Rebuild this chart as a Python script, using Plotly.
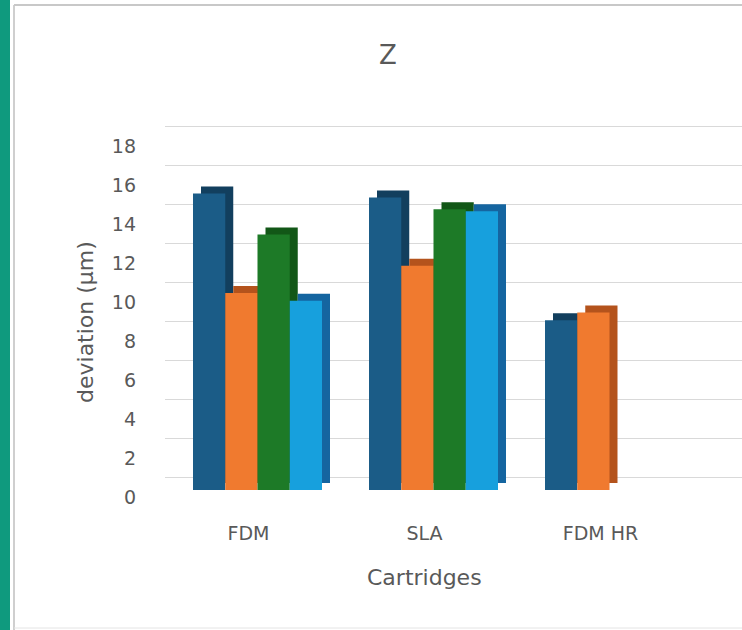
import plotly.graph_objects as go

# Data
categories = ["FDM", "SLA", "FDM HR"]
series_names = ["Series 1", "Series 2", "Series 3", "Series 4"]
series_values = [
    [15.2, 15.0, 8.7],
    [10.1, 11.5, 9.1],
    [13.1, 14.4, None],
    [9.7, 14.3, None],
]
front_colors = ["#1b5c87", "#f07a2f", "#1d7a27", "#17a0dd"]
side_colors = ["#123f5e", "#b4531c", "#125717", "#1565a0"]
y_ticks = list(range(0, 19, 2))

# Pixel geometry of the plotting area (used to line up the layered axes)
W, H = 742, 630
L, R, T, B = 165, 742, 100, 520
px_per_unit = 19.5
px_per_cat = 176.0


def y_range(zero_px):
    return [-(B - zero_px) / px_per_unit, (zero_px - T) / px_per_unit]


def x_range(center_px):
    return [-(center_px - L) / px_per_cat, (R - center_px) / px_per_cat]


def px_x(p):
    return (p - L) / (R - L)


def px_y(p):
    return (B - p) / (B - T)


fig = go.Figure()

# Depth faces: same bars, nudged right and up, drawn underneath
for name, vals, col in zip(series_names, series_values, side_colors):
    fig.add_trace(go.Bar(x=categories, y=vals, name=name, marker_color=col,
                         marker_line_width=0, showlegend=False,
                         hoverinfo="skip", xaxis="x", yaxis="y"))

# Front faces
for name, vals, col in zip(series_names, series_values, front_colors):
    fig.add_trace(go.Bar(x=categories, y=vals, name=name, marker_color=col,
                         marker_line_width=0, showlegend=False,
                         xaxis="x2", yaxis="y2"))

font_family = "DejaVu Sans, Verdana, sans-serif"
gray = "#595959"

fig.update_layout(
    width=W, height=H,
    margin=dict(l=L, r=W - R, t=T, b=H - B),
    paper_bgcolor="white", plot_bgcolor="rgba(0,0,0,0)",
    barmode="group", bargap=0.267, bargroupgap=0,
    font=dict(family=font_family, color=gray),
    title=dict(text="Z", x=388 / W, xanchor="center", y=1 - 55 / H,
               yanchor="middle", font=dict(size=26, color=gray)),
    xaxis=dict(range=x_range(265.5), type="category", showgrid=False,
               zeroline=False, showline=False, ticks="",
               ticklabelshift=-17, tickfont=dict(size=19, color=gray)),
    xaxis2=dict(range=x_range(257.5), type="category", overlaying="x",
                showgrid=False, zeroline=False, showline=False,
                showticklabels=False, ticks=""),
    yaxis=dict(range=y_range(483), tickvals=y_ticks, showgrid=False,
               zeroline=False, showline=False, ticks="",
               ticklabelshift=14, ticklabelstandoff=28,
               tickfont=dict(size=19, color=gray)),
    yaxis2=dict(range=y_range(490), overlaying="y", showgrid=False,
                zeroline=False, showline=False, showticklabels=False,
                ticks=""),
    yaxis3=dict(range=y_range(477), overlaying="y", tickvals=y_ticks,
                showgrid=True, gridcolor="#d9d9d9", gridwidth=1,
                zeroline=False, showline=False, showticklabels=False,
                ticks=""),
)

# Invisible trace so the gridline axis is drawn
fig.add_trace(go.Scatter(x=[categories[0]], y=[0], mode="markers",
                         marker=dict(opacity=0), showlegend=False,
                         hoverinfo="skip", xaxis="x2", yaxis="y3"))

# Axis titles
fig.add_annotation(text="Cartridges", xref="paper", yref="paper",
                   x=px_x(424), y=px_y(577), showarrow=False,
                   xanchor="center", yanchor="middle",
                   font=dict(size=22, color=gray))
fig.add_annotation(text="deviation (µm)", xref="paper", yref="paper",
                   x=px_x(85), y=px_y(322), showarrow=False, textangle=-90,
                   xanchor="center", yanchor="middle",
                   font=dict(size=22, color=gray))

# Frame: teal strip and thin grey chart border
fig.add_shape(type="rect", xref="paper", yref="paper",
              x0=px_x(0), x1=px_x(10), y0=px_y(H), y1=px_y(0),
              fillcolor="#0f9a7e", line_width=0, layer="below")
fig.add_shape(type="line", xref="paper", yref="paper",
              x0=px_x(14), x1=px_x(14), y0=px_y(H), y1=px_y(5),
              line=dict(color="#cfcfcf", width=2), layer="below")
fig.add_shape(type="line", xref="paper", yref="paper",
              x0=px_x(14), x1=px_x(W), y0=px_y(5), y1=px_y(5),
              line=dict(color="#c8c8c8", width=2), layer="below")
fig.add_shape(type="line", xref="paper", yref="paper",
              x0=px_x(14), x1=px_x(W), y0=px_y(628), y1=px_y(628),
              line=dict(color="#e4e4e4", width=1), layer="below")

fig.write_html("out.html")
